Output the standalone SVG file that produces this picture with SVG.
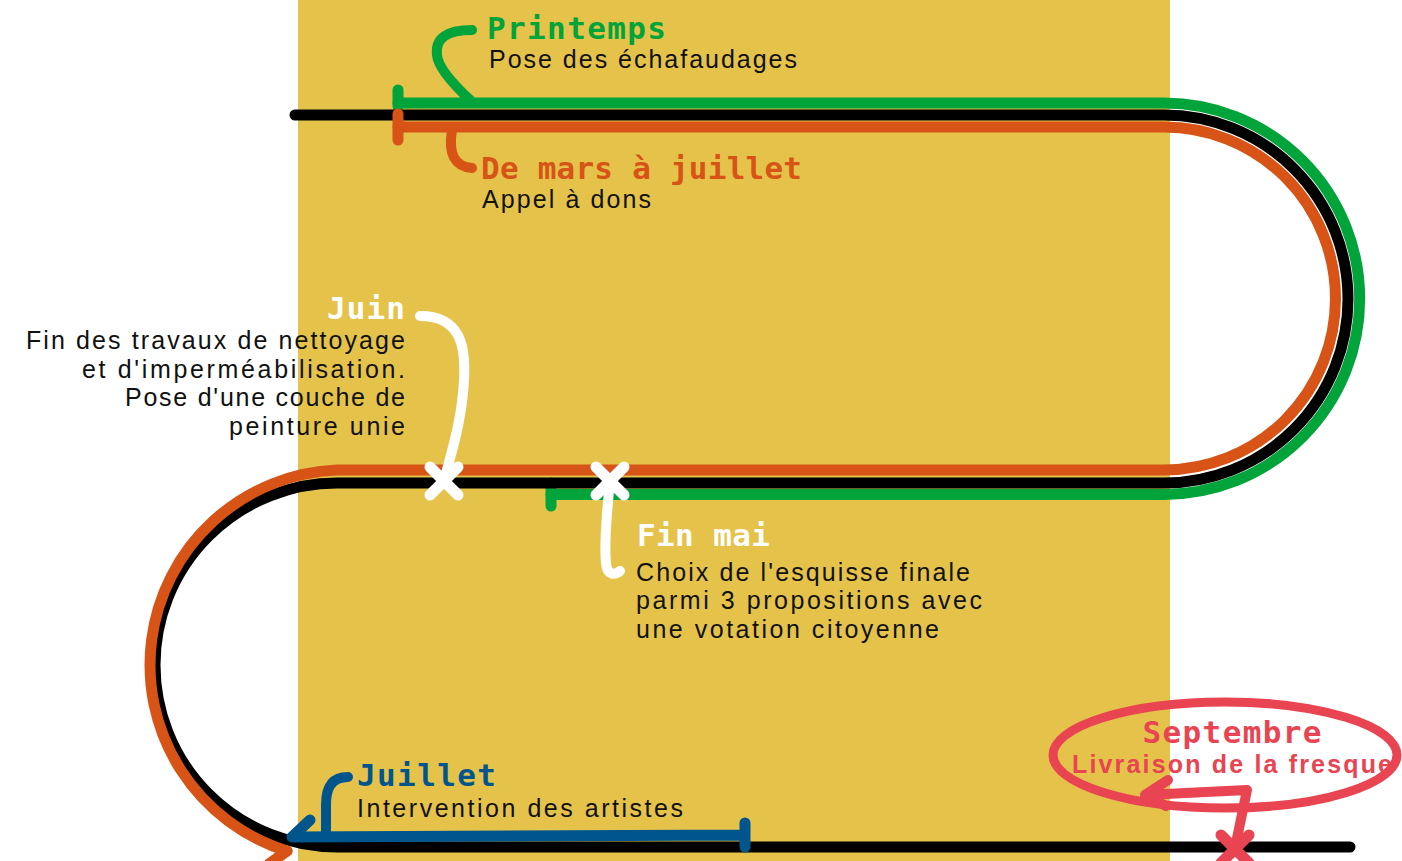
<svg xmlns="http://www.w3.org/2000/svg" width="1402" height="861" viewBox="0 0 1402 861">
<defs>
<style>
.trk{fill:none;stroke-width:11;stroke-linecap:round;stroke-linejoin:round}
.cal{fill:none;stroke-width:10;stroke-linecap:round;stroke-linejoin:round}
.x{fill:none;stroke-width:11;stroke-linecap:round}
.h{font-family:"DejaVu Sans Mono","Liberation Mono",monospace;font-weight:bold;font-size:31px}
.b{font-family:"Liberation Sans",Arial,sans-serif;font-size:25px;fill:#111}
</style>
</defs>
<rect x="298" y="0" width="872" height="861" fill="#E5C34B"/>
<g id="connectors">
<path class="trk" stroke="#00A43A" d="M398,103 L1164,103 A195.75,195.75 0 0 1 1164,494.5 L551,494.5"/>
<path class="trk" stroke="#00A43A" d="M398,90 L398,106 M551,483 L551,506"/>
<path class="trk" stroke="#000" d="M295,115 L1164,115 A184,184 0 0 1 1164,483 L337,483 A182,182 0 0 0 337,847 L1350,847"/>
<path class="trk" stroke="#D75316" d="M398,127 L1164,127 A171.5,171.5 0 0 1 1164,470 L337,470 A195,195 0 0 0 287,851"/>
<path class="trk" stroke="#D75316" d="M398,114 L398,140 M269,864 L287,851"/>
<path class="trk" stroke="#00568C" d="M310,820 L292,837 L745,835 M745,823 L745,847"/>
</g>
<g id="printemps">
<path class="cal" stroke="#00A43A" d="M470,100 Q438,70 437,55 Q434,30 472,30"/>
<text class="h" x="487" y="39" fill="#00A43A" textLength="179">Printemps</text>
<text class="b" x="489" y="68" textLength="308">Pose des échafaudages</text>
</g>
<g id="mars-juillet">
<path class="cal" stroke="#D75316" d="M452,130 Q446,166 472,168"/>
<text class="h" x="481" y="179" fill="#D75316" font-size="30" textLength="321">De mars à juillet</text>
<text class="b" x="482" y="208" font-size="24" textLength="169">Appel à dons</text>
</g>
<g id="juin">
<path class="cal" stroke="#fff" d="M420,316 C460,316 466,345 464,380 C462,420 452,450 444,481"/>
<path class="x" stroke="#fff" d="M430,467 L458,495 M458,467 L430,495"/>
<text class="h" x="405" y="319" fill="#fff" text-anchor="end" textLength="78">Juin</text>
<text class="b" x="405" y="349" text-anchor="end" textLength="379">Fin des travaux de nettoyage</text>
<text class="b" x="405" y="378" text-anchor="end" textLength="323">et d'imperméabilisation.</text>
<text class="b" x="405" y="406" text-anchor="end" textLength="280">Pose d'une couche de</text>
<text class="b" x="405" y="435" text-anchor="end" textLength="176">peinture unie</text>
</g>
<g id="fin-mai">
<path class="cal" stroke="#fff" d="M610,481 C607,510 604,545 606,563 C607,576 615,575 620,571"/>
<path class="x" stroke="#fff" d="M596,467 L624,495 M624,467 L596,495"/>
<text class="h" x="637" y="546" fill="#fff" textLength="133">Fin mai</text>
<text class="b" x="636" y="581" textLength="334">Choix de l'esquisse finale</text>
<text class="b" x="636" y="609" textLength="346">parmi 3 propositions avec</text>
<text class="b" x="636" y="638" textLength="303">une votation citoyenne</text>
</g>
<g id="juillet">
<path class="cal" stroke="#00568C" d="M348,777 C330,777 326,790 326,805 L326,832"/>
<text class="h" x="357" y="786" fill="#00568C" textLength="139">Juillet</text>
<text class="b" x="357" y="817" textLength="326">Intervention des artistes</text>
</g>
<g id="septembre">
<ellipse cx="1225" cy="755" rx="172" ry="53" fill="none" stroke="#E84452" stroke-width="9"/>
<path class="cal" stroke="#E84452" stroke-width="9" d="M1235,848 L1247,790 L1145,795 M1168,780 L1145,795 L1166,806"/>
<path class="x" stroke="#E84452" d="M1221,835 L1249,863 M1249,835 L1221,863"/>
<text class="h" x="1232" y="743" fill="#E84452" text-anchor="middle" textLength="179">Septembre</text>
<text x="1232" y="773" fill="#E84452" text-anchor="middle" font-family="Liberation Sans,Arial,sans-serif" font-weight="bold" font-size="25" textLength="320">Livraison de la fresque</text>
</g>
</svg>
